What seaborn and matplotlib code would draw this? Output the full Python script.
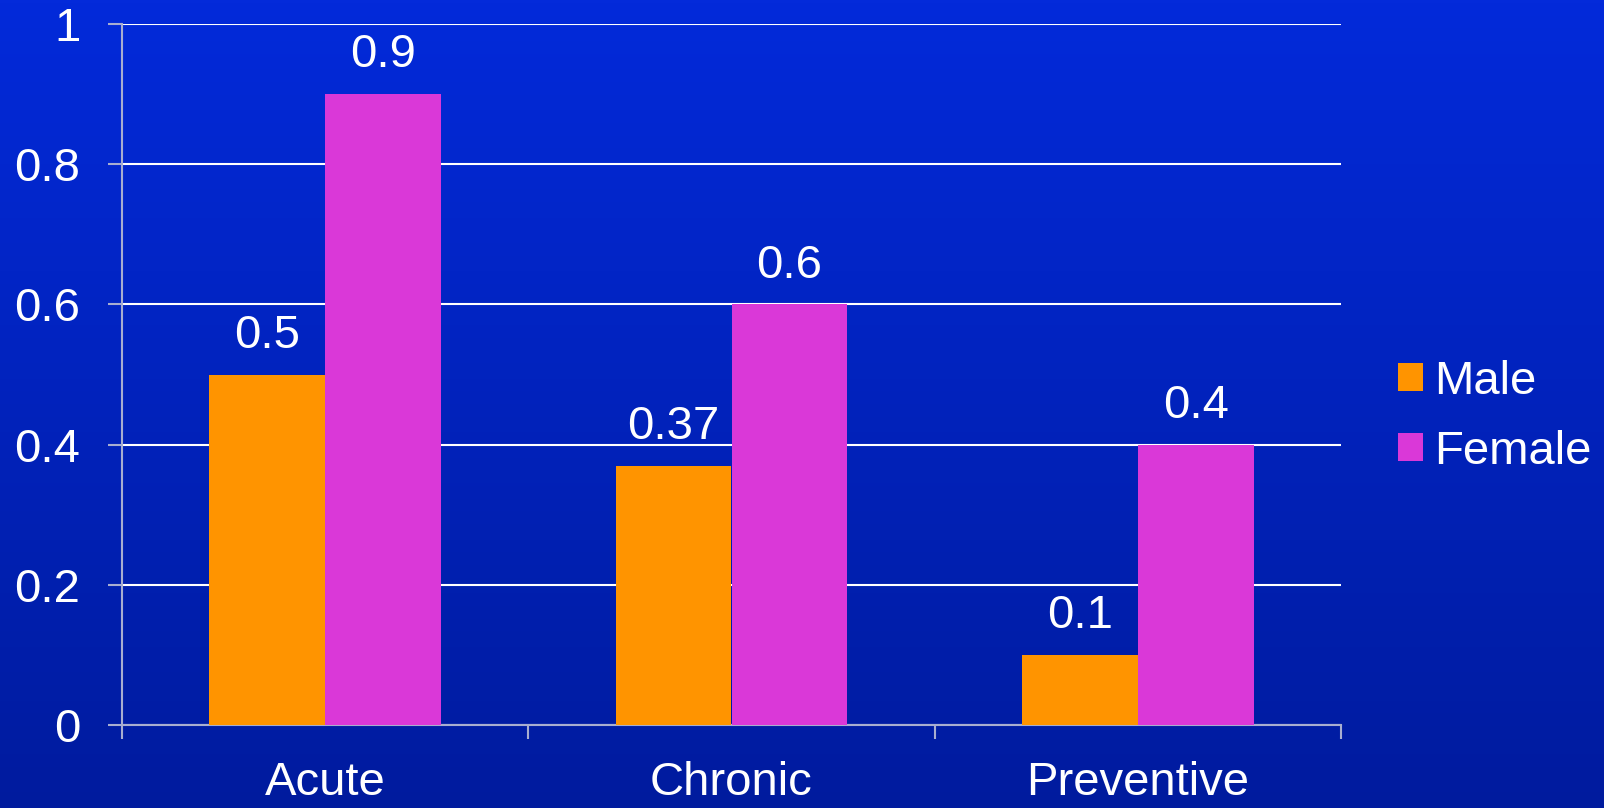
import numpy as np
import pandas as pd
import matplotlib
matplotlib.use("Agg")
import matplotlib.pyplot as plt
import seaborn as sns
from matplotlib.patches import Patch

categories = ["Acute", "Chronic", "Preventive"]
male = [0.5, 0.37, 0.1]
female = [0.9, 0.6, 0.4]
series_names = ["Male", "Female"]
y_ticks = [0, 0.2, 0.4, 0.6, 0.8, 1]
y_tick_labels = ["0", "0.2", "0.4", "0.6", "0.8", "1"]

df = pd.DataFrame({
    "category": categories * 2,
    "value": male + female,
    "series": [series_names[0]] * 3 + [series_names[1]] * 3,
})

sns.set_theme(style="white")
plt.rcParams["font.family"] = ["Liberation Sans", "DejaVu Sans"]

W, H = 1604, 808
FS = 34
fig = plt.figure(figsize=(W / 100, H / 100), dpi=100)

# vertical blue gradient backdrop
bg = fig.add_axes([0, 0, 1, 1], zorder=0)
top = np.array([3, 42, 218]) / 255
bot = np.array([0, 27, 158]) / 255
t = np.linspace(0, 1, 256)[:, None]
grad = (top[None, :] * (1 - t) + bot[None, :] * t)[:, None, :]
bg.imshow(grad, aspect="auto", extent=[0, 1, 0, 1], origin="upper")
bg.axis("off")

ax = fig.add_axes([122 / W, (H - 725) / H, (1341 - 122) / W, (725 - 24) / H], zorder=1)
ax.patch.set_alpha(0)

colors = ["#ff9400", "#da38d8"]
sns.barplot(data=df, x="category", y="value", hue="series", palette=colors,
            width=0.57, saturation=1, ax=ax, legend=False, zorder=3,
            linewidth=0, edgecolor="none")

for container in ax.containers:
    ax.bar_label(container, labels=[f"{b.get_height():g}" for b in container],
                 padding=12, color="white", fontsize=FS)

ax.set_ylim(0, 1)
ax.set_yticks(y_ticks)
ax.set_yticklabels(y_tick_labels)
ax.set_xlim(-0.5, 2.5)
ax.set_xlabel("")
ax.set_ylabel("")

ax.yaxis.grid(True, color="white", linewidth=1.5, zorder=0)
ax.set_axisbelow(True)

spine_col = "#a8aed0"
for side in ["top", "right"]:
    ax.spines[side].set_visible(False)
for side in ["left", "bottom"]:
    ax.spines[side].set_color(spine_col)
    ax.spines[side].set_linewidth(1.5)

ax.tick_params(axis="y", colors=spine_col, length=10, width=1.5, labelcolor="white",
               labelsize=FS, pad=20, left=True)
ax.set_xticks([0, 1, 2])
ax.set_xticklabels(categories)
ax.set_xticks([-0.5, 0.5, 1.5, 2.5], minor=True)
ax.tick_params(axis="x", which="major", length=0, labelcolor="white", labelsize=FS, pad=26)
ax.tick_params(axis="x", which="minor", colors=spine_col, length=10, width=1.5, bottom=True)

handles = [Patch(facecolor=c, edgecolor="none") for c in colors]
leg = fig.legend(handles, series_names, loc="center left",
                 bbox_to_anchor=(1355 / W, 1 - 417 / H), frameon=False,
                 fontsize=FS, labelcolor="white", handlelength=0.53, handleheight=0.53,
                 handletextpad=0.25, labelspacing=0.55)

fig.savefig("out.png", dpi=100)
